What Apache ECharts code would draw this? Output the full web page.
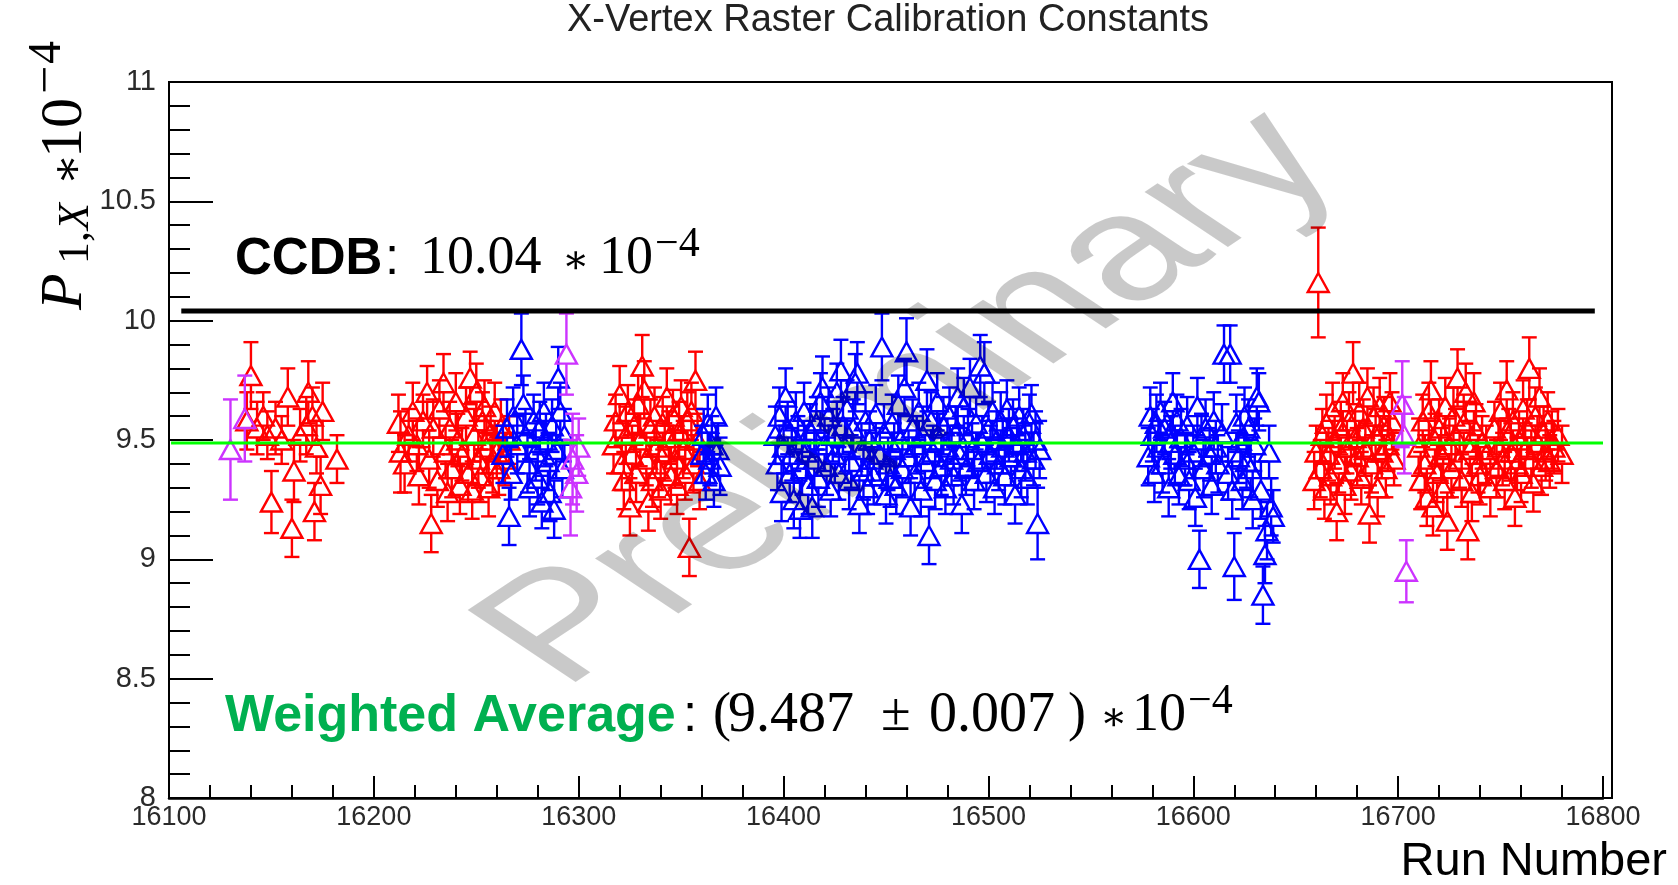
<!DOCTYPE html>
<html><head><meta charset="utf-8">
<script src="https://cdn.jsdelivr.net/npm/echarts@6/dist/echarts.min.js"></script>
<style>html,body{margin:0;padding:0;background:#fff}#c{width:1678px;height:885px}</style>
</head><body><div id="c"></div><script>
// [run, value, error] for each run, value in units of 1e-4
const redPoints = [
 [16138,9.58,0.12],[16140,9.77,0.14],[16143,9.55,0.11],[16146,9.60,0.10],[16148,9.52,0.10],[16150,9.24,0.13],
 [16152,9.55,0.11],[16155,9.50,0.10],[16158,9.68,0.12],[16160,9.13,0.12],[16161,9.37,0.13],[16164,9.52,0.11],
 [16167,9.56,0.12],[16168,9.70,0.13],[16170,9.60,0.12],[16171,9.20,0.12],[16172,9.47,0.11],[16174,9.31,0.12],
 [16175,9.62,0.12],[16182,9.42,0.10],
 [16212,9.57,0.12],[16213,9.45,0.17],[16215,9.40,0.12],[16217,9.52,0.11],[16219,9.62,0.12],[16221,9.48,0.11],
 [16222,9.35,0.12],[16224,9.58,0.11],[16226,9.70,0.11],[16227,9.42,0.12],[16228,9.15,0.12],[16229,9.55,0.12],
 [16231,9.33,0.11],[16232,9.63,0.12],[16234,9.74,0.12],[16235,9.45,0.11],[16236,9.28,0.12],[16237,9.55,0.11],
 [16238,9.38,0.12],[16240,9.66,0.12],[16241,9.50,0.11],[16242,9.31,0.12],[16243,9.44,0.11],[16245,9.60,0.12],
 [16246,9.36,0.12],[16247,9.76,0.11],[16248,9.29,0.12],[16249,9.52,0.11],[16250,9.70,0.12],[16251,9.42,0.12],
 [16252,9.35,0.11],[16253,9.58,0.12],[16254,9.64,0.11],[16255,9.47,0.11],[16256,9.30,0.12],[16257,9.53,0.11],
 [16258,9.40,0.12],[16259,9.62,0.12],[16260,9.45,0.11],[16261,9.38,0.11],[16262,9.55,0.12],[16264,9.42,0.11],
 [16266,9.50,0.10],
 [16317,9.48,0.12],[16318,9.58,0.11],[16320,9.69,0.12],[16321,9.40,0.11],[16322,9.33,0.12],[16323,9.52,0.12],
 [16324,9.62,0.11],[16325,9.22,0.12],[16326,9.44,0.12],[16327,9.56,0.11],[16328,9.36,0.12],[16329,9.65,0.12],
 [16330,9.50,0.11],[16331,9.81,0.13],[16332,9.71,0.12],[16333,9.42,0.11],[16334,9.24,0.12],[16335,9.55,0.12],
 [16336,9.33,0.11],[16337,9.60,0.12],[16338,9.47,0.11],[16339,9.38,0.12],[16340,9.29,0.12],[16341,9.57,0.11],
 [16342,9.45,0.12],[16343,9.68,0.12],[16344,9.51,0.11],[16345,9.35,0.12],[16346,9.60,0.11],[16347,9.42,0.12],
 [16348,9.31,0.12],[16349,9.54,0.12],[16350,9.64,0.11],[16351,9.46,0.12],[16352,9.36,0.11],[16353,9.58,0.12],
 [16354,9.05,0.12],[16355,9.62,0.12],[16356,9.40,0.12],[16357,9.75,0.12],[16358,9.50,0.11],[16359,9.33,0.12],
 [16661,10.16,0.23],
 [16659,9.33,0.12],[16660,9.45,0.11],[16662,9.38,0.12],[16663,9.52,0.11],[16664,9.29,0.12],[16665,9.57,0.12],
 [16666,9.44,0.11],[16667,9.35,0.12],[16668,9.62,0.12],[16669,9.49,0.11],[16670,9.20,0.12],[16671,9.40,0.12],
 [16672,9.55,0.11],[16673,9.66,0.12],[16674,9.31,0.12],[16675,9.47,0.11],[16676,9.58,0.12],[16677,9.37,0.12],
 [16678,9.78,0.13],[16679,9.51,0.11],[16680,9.43,0.12],[16681,9.62,0.12],[16682,9.34,0.11],[16683,9.55,0.12],
 [16684,9.46,0.11],[16685,9.68,0.12],[16686,9.19,0.12],[16687,9.40,0.12],[16688,9.60,0.12],[16689,9.52,0.11],
 [16690,9.30,0.12],[16691,9.64,0.12],[16692,9.45,0.11],[16693,9.56,0.12],[16694,9.38,0.12],[16695,9.48,0.11],
 [16696,9.66,0.12],[16697,9.58,0.12],[16698,9.42,0.11],
 [16710,9.47,0.12],[16711,9.33,0.12],[16712,9.58,0.11],[16713,9.40,0.12],[16714,9.26,0.12],[16715,9.62,0.12],
 [16716,9.71,0.12],[16717,9.22,0.12],[16718,9.50,0.11],[16719,9.36,0.12],[16720,9.55,0.12],[16721,9.44,0.11],
 [16722,9.30,0.12],[16723,9.64,0.12],[16724,9.16,0.12],[16725,9.48,0.11],[16726,9.38,0.12],[16727,9.60,0.12],
 [16728,9.52,0.11],[16729,9.76,0.12],[16730,9.42,0.12],[16731,9.33,0.11],[16732,9.57,0.12],[16733,9.70,0.12],
 [16734,9.12,0.12],[16735,9.46,0.11],[16736,9.28,0.12],[16737,9.66,0.12],[16738,9.54,0.11],[16739,9.40,0.12],
 [16740,9.35,0.12],[16741,9.49,0.11],[16743,9.44,0.12],[16745,9.30,0.12],[16747,9.55,0.11],[16748,9.38,0.12],
 [16749,9.47,0.12],[16750,9.62,0.12],[16751,9.42,0.11],[16752,9.33,0.12],[16753,9.71,0.12],[16754,9.52,0.11],
 [16755,9.45,0.12],[16756,9.58,0.12],[16757,9.26,0.12],[16758,9.40,0.11],[16759,9.50,0.12],[16760,9.36,0.12],
 [16761,9.63,0.12],[16762,9.46,0.11],[16763,9.55,0.12],[16764,9.80,0.13],[16765,9.42,0.12],[16766,9.32,0.12],
 [16767,9.60,0.12],[16768,9.49,0.11],[16769,9.68,0.12],[16770,9.39,0.12],[16771,9.53,0.11],[16772,9.45,0.12],
 [16773,9.58,0.12],[16774,9.41,0.11],[16775,9.50,0.12],[16776,9.47,0.11],[16778,9.52,0.11],[16780,9.44,0.12]
];
const bluePoints = [
 [16263,9.44,0.12],[16265,9.55,0.12],[16266,9.18,0.12],[16267,9.36,0.11],[16268,9.60,0.12],[16270,9.48,0.12],
 [16272,9.88,0.15],[16273,9.65,0.12],[16274,9.52,0.11],[16275,9.40,0.12],[16276,9.30,0.12],[16278,9.58,0.11],
 [16279,9.45,0.12],[16280,9.34,0.11],[16281,9.55,0.11],[16282,9.24,0.11],[16283,9.62,0.12],[16284,9.50,0.11],
 [16285,9.41,0.12],[16286,9.28,0.12],[16287,9.56,0.11],[16288,9.21,0.12],[16289,9.46,0.12],[16290,9.76,0.13],
 [16291,9.62,0.12],[16292,9.38,0.12],[16293,9.52,0.11],
 [16360,9.44,0.12],[16361,9.52,0.11],[16362,9.36,0.11],[16363,9.57,0.12],[16364,9.42,0.11],[16365,9.48,0.12],
 [16366,9.33,0.11],[16367,9.60,0.12],[16368,9.46,0.11],[16369,9.39,0.12],
 [16396,9.52,0.12],[16397,9.40,0.11],[16398,9.60,0.12],[16399,9.28,0.12],[16400,9.47,0.11],[16401,9.68,0.12],
 [16402,9.55,0.11],[16403,9.36,0.12],[16404,9.44,0.11],[16405,9.25,0.12],[16406,9.58,0.12],[16407,9.49,0.11],
 [16408,9.21,0.12],[16409,9.38,0.11],[16410,9.62,0.12],[16411,9.45,0.11],[16412,9.31,0.12],[16413,9.54,0.11],
 [16414,9.22,0.13],[16415,9.42,0.12],[16416,9.57,0.11],[16417,9.34,0.12],[16418,9.66,0.12],[16419,9.72,0.13],
 [16420,9.48,0.11],[16421,9.39,0.12],[16422,9.60,0.12],[16423,9.29,0.11],[16424,9.52,0.11],[16425,9.44,0.12],
 [16426,9.70,0.12],[16427,9.36,0.11],[16428,9.79,0.13],[16429,9.56,0.12],[16430,9.47,0.11],[16431,9.63,0.12],
 [16432,9.33,0.12],[16433,9.41,0.11],[16434,9.55,0.12],[16435,9.74,0.12],[16436,9.78,0.13],[16437,9.23,0.12],
 [16438,9.46,0.11],[16439,9.37,0.12],[16440,9.58,0.12],[16441,9.30,0.11],[16442,9.50,0.12],[16443,9.42,0.11],
 [16444,9.35,0.12],[16445,9.61,0.12],[16447,9.44,0.11],[16448,9.89,0.14],[16449,9.53,0.12],[16450,9.27,0.12],
 [16451,9.40,0.11],[16452,9.34,0.12],[16453,9.57,0.12],[16454,9.46,0.11],[16455,9.31,0.12],[16456,9.65,0.12],
 [16457,9.50,0.11],[16458,9.38,0.12],[16459,9.72,0.12],[16460,9.87,0.14],[16461,9.43,0.11],[16462,9.22,0.12],
 [16463,9.55,0.12],[16464,9.36,0.11],[16465,9.48,0.12],[16466,9.62,0.12],[16467,9.29,0.11],[16468,9.52,0.12],
 [16469,9.41,0.11],[16470,9.75,0.13],[16471,9.10,0.12],[16472,9.58,0.12],[16473,9.45,0.11],[16474,9.33,0.12],
 [16475,9.66,0.12],[16476,9.50,0.11],[16477,9.39,0.12],[16478,9.56,0.12],[16479,9.30,0.11],[16480,9.47,0.12],
 [16481,9.60,0.12],[16482,9.42,0.11],[16483,9.35,0.12],[16484,9.53,0.11],[16485,9.68,0.12],[16486,9.44,0.11],
 [16487,9.23,0.12],[16488,9.64,0.12],[16489,9.38,0.11],[16490,9.51,0.12],[16491,9.72,0.12],[16492,9.46,0.11],
 [16493,9.33,0.12],[16494,9.57,0.11],[16495,9.41,0.12],[16496,9.81,0.13],[16497,9.49,0.11],[16498,9.78,0.13],
 [16499,9.36,0.12],[16500,9.55,0.11],[16501,9.44,0.12],[16502,9.62,0.12],[16503,9.30,0.11],[16504,9.50,0.12],
 [16505,9.40,0.11],[16506,9.58,0.12],[16507,9.47,0.11],[16508,9.35,0.12],[16509,9.63,0.12],[16510,9.52,0.11],
 [16511,9.43,0.12],[16512,9.56,0.11],[16513,9.27,0.12],[16514,9.48,0.11],[16515,9.60,0.12],[16516,9.38,0.12],
 [16517,9.52,0.11],[16518,9.45,0.12],[16519,9.34,0.11],[16520,9.57,0.12],[16521,9.61,0.12],[16522,9.42,0.11],
 [16523,9.50,0.12],[16524,9.15,0.15],[16525,9.46,0.12],
 [16578,9.43,0.12],[16579,9.60,0.12],[16580,9.52,0.11],[16581,9.36,0.12],[16582,9.57,0.12],[16583,9.47,0.11],
 [16584,9.62,0.12],[16585,9.40,0.12],[16586,9.55,0.11],[16588,9.30,0.12],[16589,9.49,0.11],[16590,9.66,0.12],
 [16591,9.44,0.12],[16592,9.58,0.11],[16593,9.35,0.12],[16594,9.51,0.12],[16596,9.42,0.11],[16597,9.56,0.12],
 [16598,9.33,0.12],[16600,9.45,0.11],[16601,9.26,0.12],[16602,9.64,0.12],[16603,9.00,0.12],[16604,9.50,0.11],
 [16605,9.38,0.12],[16606,9.55,0.12],[16608,9.44,0.11],[16609,9.31,0.12],[16610,9.58,0.12],[16611,9.47,0.11],
 [16612,9.40,0.12],[16614,9.53,0.12],[16615,9.86,0.12],[16618,9.86,0.12],[16617,9.36,0.11],[16619,9.29,0.12],
 [16620,8.97,0.14],[16621,9.57,0.12],[16622,9.43,0.11],[16623,9.50,0.12],[16624,9.33,0.12],[16625,9.60,0.12],
 [16626,9.41,0.11],[16627,9.55,0.12],[16628,9.38,0.12],[16629,9.25,0.12],[16630,9.48,0.11],[16631,9.68,0.12],
 [16632,9.66,0.12],[16633,9.29,0.12],[16634,8.85,0.12],[16635,9.02,0.12],[16636,9.12,0.12],[16637,9.45,0.11],
 [16638,9.22,0.12],[16639,9.18,0.11]
];
const violetPoints = [
 [16130,9.46,0.21],[16137,9.59,0.18],
 [16294,9.86,0.17],[16296,9.30,0.20],[16297,9.42,0.19],[16299,9.36,0.16],[16300,9.47,0.12],
 [16702,9.65,0.18],[16703,9.52,0.16],[16704,8.95,0.13]
];
const ccdbValue = 10.04;
const ccdbSpan = [16106, 16796];
const averageValue = 9.487;
const averageSpan = [16101, 16800];
const xRange = [16100, 16800];
const yRange = [8, 11];

function errorBarRenderer(color) {
  return function (params, api) {
    const run = api.value(0), v = api.value(1), e = api.value(2);
    const c = api.coord([run, v]);
    const t = api.coord([run, v + e]);
    const b = api.coord([run, v - e]);
    const hw = 10.5, hh = 9.5, cw = 7.5;
    const st = { stroke: color, lineWidth: 2.4, fill: 'none' };
    const ch = [];
    if (c[1] - hh > t[1]) ch.push({ type: 'line', shape: { x1: c[0], y1: t[1], x2: c[0], y2: c[1] - hh }, style: st });
    if (b[1] > c[1] + hh) ch.push({ type: 'line', shape: { x1: c[0], y1: c[1] + hh, x2: c[0], y2: b[1] }, style: st });
    ch.push({ type: 'line', shape: { x1: c[0] - cw, y1: t[1], x2: c[0] + cw, y2: t[1] }, style: st });
    ch.push({ type: 'line', shape: { x1: c[0] - cw, y1: b[1], x2: c[0] + cw, y2: b[1] }, style: st });
    ch.push({ type: 'polygon', shape: { points: [[c[0], c[1] - hh], [c[0] + hw, c[1] + hh], [c[0] - hw, c[1] + hh]] }, style: st });
    return { type: 'group', children: ch };
  };
}
function pointSeries(name, data, color) {
  return { name: name, type: 'custom', xAxisIndex: 0, yAxisIndex: 0, data: data,
    encode: { x: 0, y: 1 }, renderItem: errorBarRenderer(color), silent: true, clip: true, z: 2 };
}
function txt(x, y, text, font, fill, align) {
  return { type: 'text', x: x, y: y, silent: true,
    style: { text: text, font: font, fill: fill || '#000', align: align || 'left', verticalAlign: 'middle',
             textAlign: align || 'left', textVerticalAlign: 'middle' } };
}
const SERIF = '"Liberation Serif", "DejaVu Serif", serif';
const SANS = '"Liberation Sans", Arial, sans-serif';

const chart = echarts.init(document.getElementById('c'), null, { renderer: 'canvas' });
chart.setOption({
  animation: false,
  backgroundColor: '#fff',
  grid: [
    { left: 169, top: 82, width: 1434, height: 716, outerBoundsMode: 'none', containLabel: false },
    { left: 169, top: 82, width: 1443, height: 716, outerBoundsMode: 'none', containLabel: false,
      show: true, borderColor: '#000', borderWidth: 2, backgroundColor: 'transparent' }
  ],
  xAxis: [
    { type: 'value', gridIndex: 0, min: xRange[0], max: xRange[1], interval: 100,
      axisLine: { show: true, onZero: false, lineStyle: { color: '#000', width: 2.5 } },
      axisTick: { show: true, inside: true, length: 22, lineStyle: { color: '#000', width: 2 } },
      minorTick: { show: true, splitNumber: 5, length: 13, lineStyle: { color: '#000', width: 2 } },
      axisLabel: { show: true, margin: 6, fontSize: 27, fontFamily: SANS, color: '#2a2a2a',
                   formatter: function (v) { return String(v); } },
      splitLine: { show: false }, minorSplitLine: { show: false } },
    { type: 'value', gridIndex: 1, min: 0, max: 1, show: false }
  ],
  yAxis: [
    { type: 'value', gridIndex: 0, min: yRange[0], max: yRange[1], interval: 0.5,
      axisLine: { show: true, onZero: false, lineStyle: { color: '#000', width: 2 } },
      axisTick: { show: true, inside: true, length: 44, lineStyle: { color: '#000', width: 2 } },
      minorTick: { show: true, splitNumber: 5, length: 21, lineStyle: { color: '#000', width: 2 } },
      axisLabel: { show: true, margin: 13, fontSize: 29, fontFamily: SANS, color: '#2a2a2a',
                   formatter: function (v) { return String(v); } },
      splitLine: { show: false }, minorSplitLine: { show: false } },
    { type: 'value', gridIndex: 1, min: 0, max: 1, show: false }
  ],
  series: [
    pointSeries('red', redPoints, '#ff0000'),
    pointSeries('blue', bluePoints, '#0000ff'),
    pointSeries('violet', violetPoints, '#cc33ff'),
    { type: 'line', xAxisIndex: 0, yAxisIndex: 0, symbol: 'none', silent: true, clip: false, z: 5,
      data: [[averageSpan[0], averageValue], [averageSpan[1], averageValue]],
      lineStyle: { color: '#00ff00', width: 3 } },
    { type: 'line', xAxisIndex: 0, yAxisIndex: 0, symbol: 'none', silent: true, clip: false, z: 5,
      data: [[ccdbSpan[0], ccdbValue], [ccdbSpan[1], ccdbValue]],
      lineStyle: { color: '#000', width: 5 } }
  ],
  graphic: [
    txt(888, 21, 'X-Vertex Raster Calibration Constants', '38px ' + SANS, '#222', 'center'),
    txt(235, 260, 'CCDB', 'bold 51px ' + SANS, '#000'),
    txt(385, 260, ':', '51px ' + SANS, '#000'),
    txt(420, 259, '10.04', '54px ' + SERIF, '#000'),
    txt(562, 262, '\u2217', '40px ' + SERIF, '#000'),
    txt(599, 259, '10', '54px ' + SERIF, '#000'),
    txt(655, 245, '\u22124', '42px ' + SERIF, '#000'),
    txt(225, 717, 'Weighted Average', 'bold 52px ' + SANS, '#00b050'),
    txt(683, 717, ':', '51px ' + SANS, '#000'),
    txt(713, 716, '(', '54px ' + SERIF, '#000'),
    txt(728, 716, '9.487', '56px ' + SERIF, '#000'),
    txt(881, 716, '\u00b1', '54px ' + SERIF, '#000'),
    txt(929, 716, '0.007', '56px ' + SERIF, '#000'),
    txt(1068, 716, ')', '54px ' + SERIF, '#000'),
    txt(1100, 719, '\u2217', '40px ' + SERIF, '#000'),
    txt(1132, 716, '10', '54px ' + SERIF, '#000'),
    txt(1188, 702, '\u22124', '42px ' + SERIF, '#000'),
    txt(1667, 862, 'Run Number', '47px ' + SANS, '#000', 'right'),
    { type: 'group', x: 84, y: 310, rotation: Math.PI / 2, silent: true,
      children: [
        txt(0, -19, 'P', 'italic 60px ' + SERIF, '#000'),
        txt(46, -8, '1,', '44px ' + SERIF, '#000'),
        txt(80, -8, 'X', 'italic 44px ' + SERIF, '#000'),
        txt(125, -14, '\u2217', '46px ' + SERIF, '#000'),
        txt(152, -19, '10', '60px ' + SERIF, '#000'),
        txt(216, -36, '\u2212', '50px ' + SERIF, '#000'),
        txt(246, -36, '4', '46px ' + SERIF, '#000')
      ] },
    { type: 'group', x: 912, y: 400, scaleX: 1.5, z: 100, silent: true,
      children: [
        { type: 'text', rotation: Math.PI / 4, z: 100, silent: true,
          style: { text: 'Preliminary', font: '148px ' + SANS, fill: 'rgba(0,0,0,0.21)',
                   align: 'center', verticalAlign: 'middle', textAlign: 'center', textVerticalAlign: 'middle' } }
      ] }
  ]
});
</script></body></html>
